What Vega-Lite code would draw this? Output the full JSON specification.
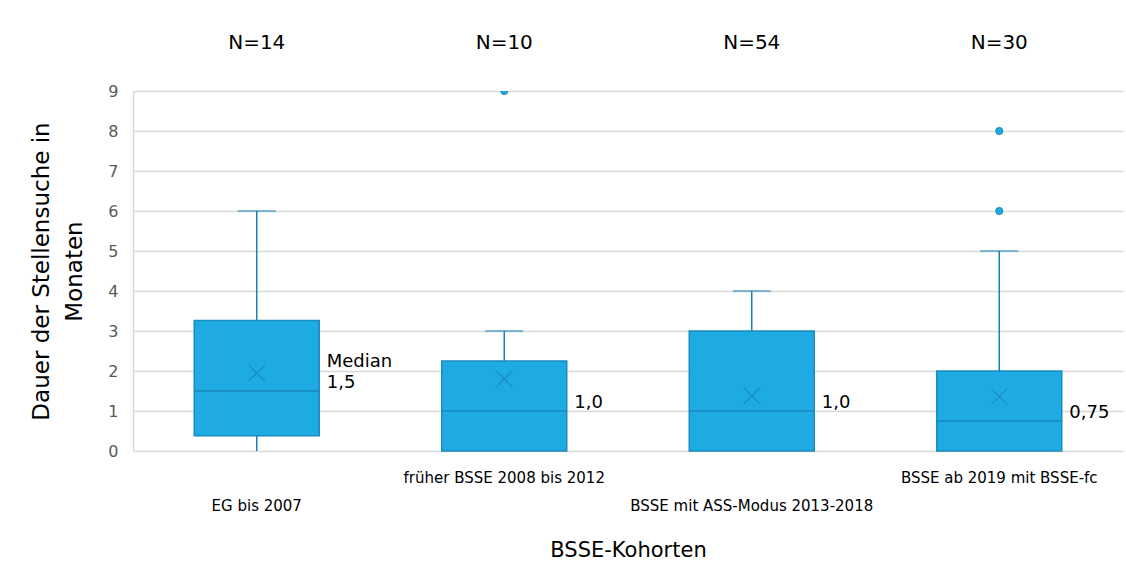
{
  "$schema": "https://vega.github.io/schema/vega-lite/v6.json",
  "width": 990,
  "height": 360,
  "autosize": {"type": "none"},
  "padding": {"left": 133, "top": 91, "right": 3, "bottom": 125},
  "background": "white",
  "config": {
    "view": {"stroke": null},
    "font": "DejaVu Sans",
    "axisY": {
      "grid": true,
      "gridColor": "#D9D9D9",
      "gridWidth": 1.5,
      "domain": true,
      "domainColor": "#D9D9D9",
      "domainWidth": 1.5,
      "ticks": false,
      "labelColor": "#595959",
      "labelFontSize": 16,
      "labelPadding": 15,
      "labelOverlap": false,
      "titleFontSize": 23,
      "titleLineHeight": 33,
      "titleFontWeight": "normal",
      "titleColor": "black",
      "titlePadding": 21
    }
  },
  "datasets": {
    "stats": [
      {"cat": "EG bis 2007", "min": 0, "q1": 0.38, "median": 1.5, "q3": 3.26, "max": 6, "mean": 1.95, "n": "N=14", "label": ["Median", "1,5"]},
      {"cat": "früher BSSE 2008 bis 2012", "min": 0, "q1": 0, "median": 1, "q3": 2.25, "max": 3, "mean": 1.8, "n": "N=10", "label": "1,0"},
      {"cat": "BSSE mit ASS-Modus 2013-2018", "min": 0, "q1": 0, "median": 1, "q3": 3, "max": 4, "mean": 1.38, "n": "N=54", "label": "1,0"},
      {"cat": "BSSE ab 2019 mit BSSE-fc", "min": 0, "q1": 0, "median": 0.75, "q3": 2, "max": 5, "mean": 1.36, "n": "N=30", "label": "0,75"}
    ],
    "outliers": [
      {"cat": "früher BSSE 2008 bis 2012", "value": 9},
      {"cat": "BSSE ab 2019 mit BSSE-fc", "value": 6},
      {"cat": "BSSE ab 2019 mit BSSE-fc", "value": 8}
    ]
  },
  "data": {"name": "stats"},
  "encoding": {
    "x": {
      "field": "cat",
      "type": "nominal",
      "sort": ["EG bis 2007", "früher BSSE 2008 bis 2012", "BSSE mit ASS-Modus 2013-2018", "BSSE ab 2019 mit BSSE-fc"],
      "scale": {"paddingInner": 0, "paddingOuter": 0},
      "axis": {
        "orient": "bottom",
        "ticks": false,
        "domain": false,
        "labelAngle": 0,
        "labelLimit": 0,
        "labelOverlap": false,
        "labelFontSize": 15,
        "labelColor": "black",
        "labelPadding": {"condition": {"test": "datum.value == 'früher BSSE 2008 bis 2012' || datum.value == 'BSSE ab 2019 mit BSSE-fc'", "value": 19}, "value": 47},
        "title": "BSSE-Kohorten",
        "titleFontSize": 21,
        "titleFontWeight": "normal",
        "titleColor": "black",
        "titlePadding": 26
      }
    }
  },
  "layer": [
    {
      "mark": {"type": "rule", "color": "#1784B5", "strokeWidth": 1.5},
      "encoding": {
        "y": {"field": "q3", "type": "quantitative", "scale": {"domain": [0, 9], "nice": false}, "axis": {"values": [0, 1, 2, 3, 4, 5, 6, 7, 8, 9], "title": ["Dauer der Stellensuche in", "Monaten"]}},
        "y2": {"field": "max"}
      }
    },
    {
      "mark": {"type": "rule", "color": "#1784B5", "strokeWidth": 1.5},
      "encoding": {
        "y": {"field": "min", "type": "quantitative", "axis": {"values": [0, 1, 2, 3, 4, 5, 6, 7, 8, 9], "title": ["Dauer der Stellensuche in", "Monaten"]}},
        "y2": {"field": "q1"}
      }
    },
    {
      "mark": {"type": "tick", "orient": "horizontal", "color": "#1784B5", "thickness": 1.5},
      "encoding": {
        "y": {"field": "max", "type": "quantitative", "axis": {"values": [0, 1, 2, 3, 4, 5, 6, 7, 8, 9], "title": ["Dauer der Stellensuche in", "Monaten"]}},
        "size": {"value": 38}
      }
    },
    {
      "mark": {"type": "bar", "fill": "#1EABE3", "stroke": "#1A8CC0", "strokeWidth": 1.5, "width": 125},
      "encoding": {
        "y": {"field": "q1", "type": "quantitative", "axis": {"values": [0, 1, 2, 3, 4, 5, 6, 7, 8, 9], "title": ["Dauer der Stellensuche in", "Monaten"]}},
        "y2": {"field": "q3"}
      }
    },
    {
      "mark": {"type": "tick", "orient": "horizontal", "color": "#1784B5", "thickness": 2},
      "encoding": {
        "y": {"field": "median", "type": "quantitative", "axis": {"values": [0, 1, 2, 3, 4, 5, 6, 7, 8, 9], "title": ["Dauer der Stellensuche in", "Monaten"]}},
        "size": {"value": 124}
      }
    },
    {
      "mark": {"type": "point", "shape": "M-1,-1L1,1M-1,1L1,-1", "filled": false, "stroke": "#1784B5", "strokeWidth": 1.3},
      "encoding": {
        "y": {"field": "mean", "type": "quantitative", "axis": {"values": [0, 1, 2, 3, 4, 5, 6, 7, 8, 9], "title": ["Dauer der Stellensuche in", "Monaten"]}},
        "size": {"value": 256}
      }
    },
    {
      "data": {"name": "outliers"},
      "mark": {"type": "point", "shape": "circle", "filled": true, "fill": "#1EABE3", "stroke": "#1784B5", "strokeWidth": 1, "opacity": 1, "clip": true},
      "encoding": {
        "y": {"field": "value", "type": "quantitative", "axis": {"values": [0, 1, 2, 3, 4, 5, 6, 7, 8, 9], "title": ["Dauer der Stellensuche in", "Monaten"]}},
        "size": {"value": 50}
      }
    },
    {
      "mark": {"type": "text", "fontSize": 20, "color": "black", "baseline": "middle", "align": "center"},
      "encoding": {
        "y": {"datum": 10.2, "type": "quantitative", "axis": {"values": [0, 1, 2, 3, 4, 5, 6, 7, 8, 9], "title": ["Dauer der Stellensuche in", "Monaten"]}},
        "text": {"field": "n"}
      }
    },
    {
      "transform": [{"filter": "!isArray(datum.label)"}],
      "mark": {"type": "text", "fontSize": 18, "color": "black", "baseline": "middle", "align": "left", "dx": 70, "dy": -8},
      "encoding": {
        "y": {"field": "median", "type": "quantitative", "axis": {"values": [0, 1, 2, 3, 4, 5, 6, 7, 8, 9], "title": ["Dauer der Stellensuche in", "Monaten"]}},
        "text": {"field": "label"}
      }
    },
    {
      "transform": [{"filter": "isArray(datum.label)"}],
      "mark": {"type": "text", "fontSize": 18, "color": "black", "baseline": "middle", "align": "left", "dx": 70, "dy": -29, "lineHeight": 21},
      "encoding": {
        "y": {"field": "median", "type": "quantitative", "axis": {"values": [0, 1, 2, 3, 4, 5, 6, 7, 8, 9], "title": ["Dauer der Stellensuche in", "Monaten"]}},
        "text": {"field": "label"}
      }
    }
  ]
}
